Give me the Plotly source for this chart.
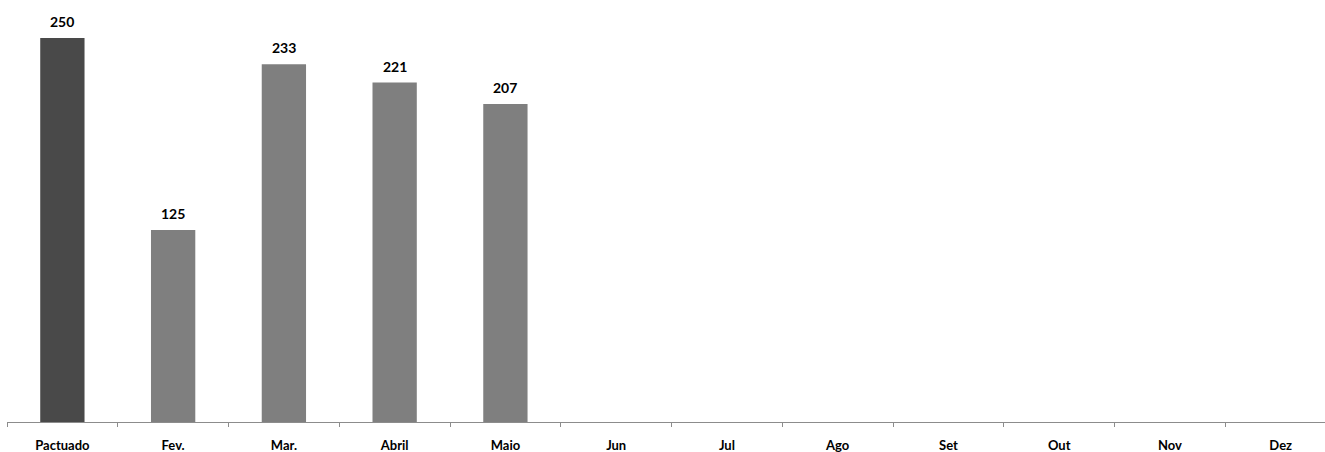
import plotly.graph_objects as go

categories = ["Pactuado", "Fev.", "Mar.", "Abril", "Maio", "Jun", "Jul", "Ago", "Set", "Out", "Nov", "Dez"]
values = [250, 125, 233, 221, 207, None, None, None, None, None, None, None]
bar_colors = ["#494949"] + ["#7f7f7f"] * 11

fig = go.Figure(go.Bar(
    x=categories, y=values, width=0.4,
    marker=dict(color=bar_colors, line=dict(width=0)),
    hoverinfo="skip",
))

for c, v in zip(categories, values):
    if v is None:
        continue
    fig.add_annotation(
        x=c, y=v, text=str(v), showarrow=False, yanchor="bottom", yshift=6,
        font=dict(family="Lato, Open Sans, sans-serif", size=14, color="black", weight="bold"),
    )

fig.update_layout(
    width=1325, height=452,
    margin=dict(l=7, r=0, t=7, b=30, autoexpand=False),
    paper_bgcolor="white", plot_bgcolor="white",
    showlegend=False,
    xaxis=dict(
        range=[-0.5, 11.4], showline=True, linecolor="#8c8c8c", linewidth=1,
        ticks="outside", tickson="boundaries", ticklen=4, tickcolor="#8c8c8c",
        tickfont=dict(family="Lato, Open Sans, sans-serif", size=13, color="black", weight="bold"),
        ticklabelstandoff=11, showgrid=False, automargin=False,
    ),
    yaxis=dict(range=[0, 270.2], visible=False, showgrid=False, automargin=False),
)

fig.write_html(
    "out.html",
    config={"displayModeBar": False},
    post_script="document.body.style.margin='0';document.body.style.overflow='hidden';",
)
